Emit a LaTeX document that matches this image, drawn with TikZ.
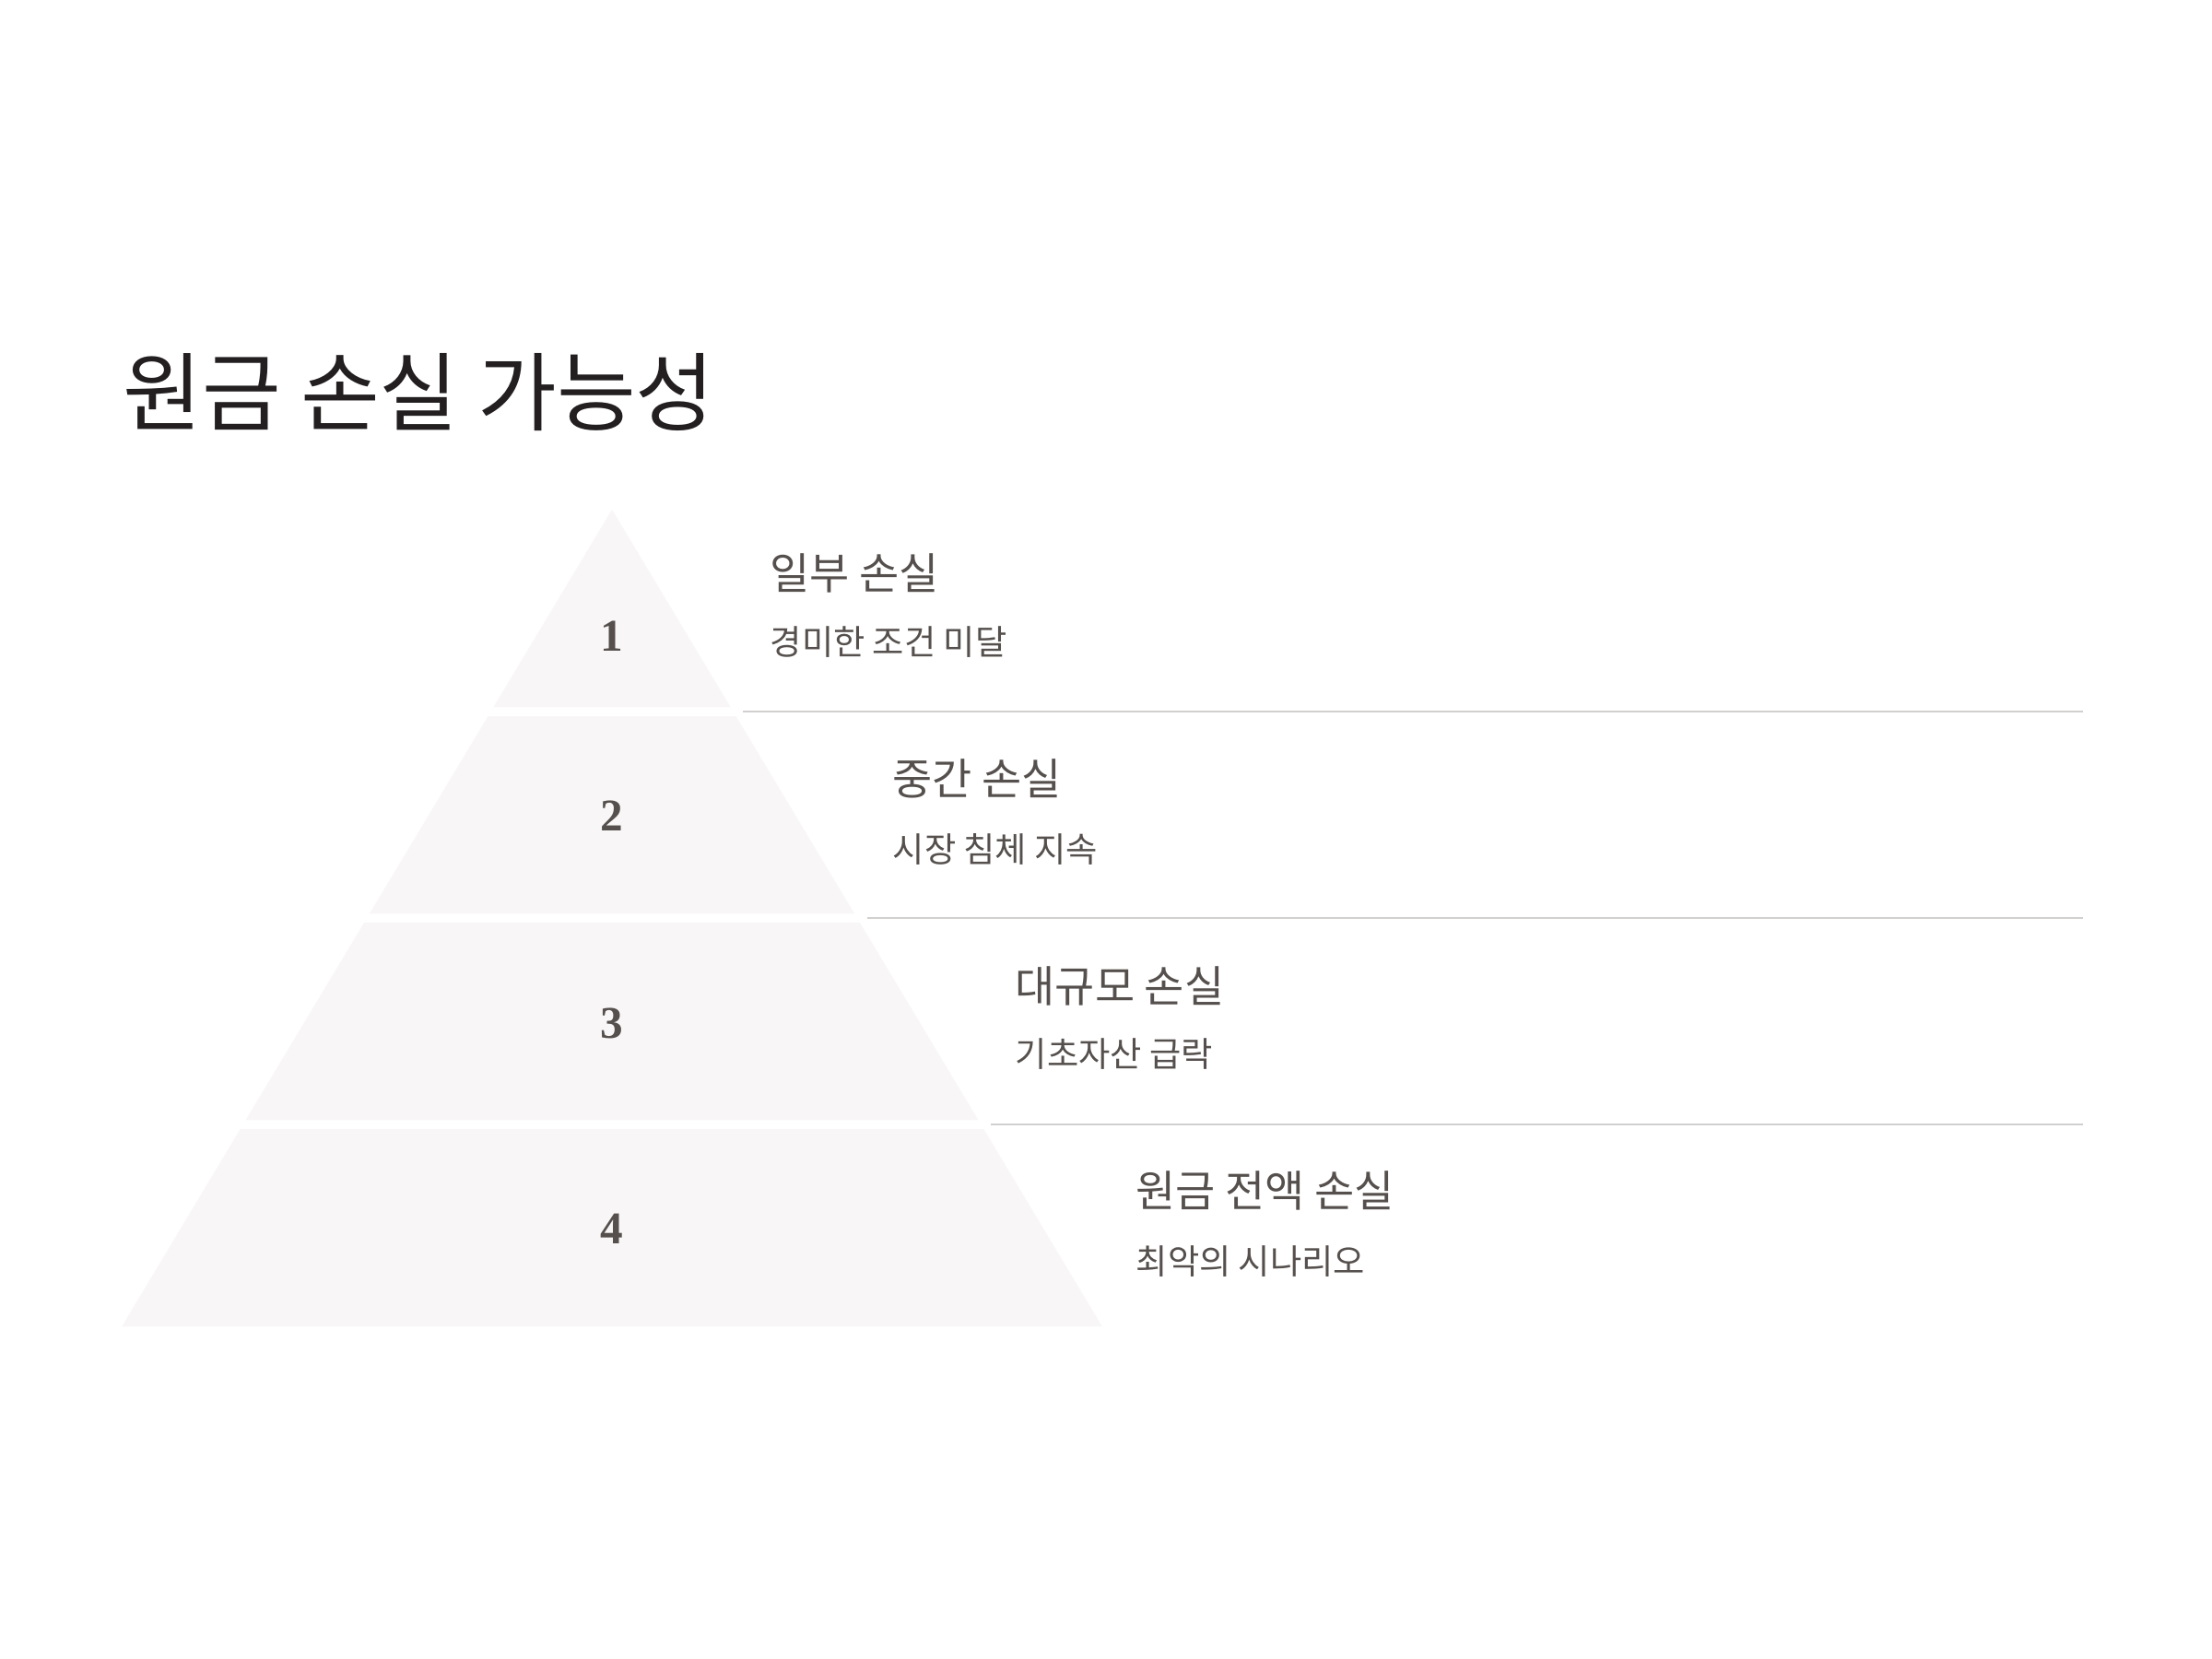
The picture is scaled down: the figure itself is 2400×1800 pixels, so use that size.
\documentclass[tikz,border=0pt]{standalone}
\usepackage{fontspec}
\newfontfamily\kr{Noto Sans CJK KR}
\newfontfamily\numfont{Liberation Serif}
\definecolor{titlec}{RGB}{35,31,32}
\definecolor{labelc}{RGB}{85,80,77}
\definecolor{tierc}{RGB}{248,246,246}
\definecolor{rulec}{RGB}{210,207,207}
\tikzset{
  tier/.style={fill=tierc, draw=none},
  rule/.style={draw=rulec, line width=0.6pt},
  num/.style={font=\numfont\bfseries\fontsize{14}{16}\selectfont, text=labelc, inner sep=0pt},
  head/.style={font=\kr\fontsize{13.35}{15}\selectfont, text=labelc, anchor=west, inner sep=0pt},
  sub/.style={font=\kr\fontsize{10.6}{13}\selectfont, text=labelc, anchor=west, inner sep=0pt},
  ttl/.style={font=\kr\fontsize{26.5}{32}\selectfont, text=titlec, anchor=west, inner sep=0pt}
}
\begin{document}
\begin{tikzpicture}[x=0.01cm, y=-0.01cm]
\useasboundingbox (0,0) rectangle (2400,1800);
\fill[white] (0,0) rectangle (2400,1800);

% title
\node[ttl] (title) at (133,426) {원금 손실 가능성};

% pyramid tiers
\path[tier] (664,553) -- (792.4,767) -- (535.6,767) -- cycle;
\path[tier] (529.6,777) -- (798.4,777) -- (926.8,991) -- (401.2,991) -- cycle;
\path[tier] (395.2,1001) -- (932.8,1001) -- (1061.2,1215) -- (266.8,1215) -- cycle;
\path[tier] (260.8,1225) -- (1067.2,1225) -- (1195.6,1439) -- (132.4,1439) -- cycle;

% numbers
\node[num] (n1) at (664,690) {1};
\node[num] (n2) at (664,885) {2};
\node[num] (n3) at (664,1110) {3};
\node[num] (n4) at (664,1333) {4};

% separators
\coordinate (r1a) at (806,772);  \coordinate (r1b) at (2260,772);
\coordinate (r2a) at (941,996);  \coordinate (r2b) at (2260,996);
\coordinate (r3a) at (1075,1220); \coordinate (r3b) at (2260,1220);
\draw[rule] (r1a) -- (r1b);
\draw[rule] (r2a) -- (r2b);
\draw[rule] (r3a) -- (r3b);

% labels
\node[head] (h1) at (835,622) {일부 손실};
\node[sub]  (s1) at (835,697) {경미한 조건 미달};
\node[head] (h2) at (968,845) {중간 손실};
\node[sub]  (s2) at (968,921) {시장 침체 지속};
\node[head] (h3) at (1101,1070) {대규모 손실};
\node[sub]  (s3) at (1101,1144) {기초자산 급락};
\node[head] (h4) at (1232,1292) {원금 전액 손실};
\node[sub]  (s4) at (1232,1369) {최악의 시나리오};
\end{tikzpicture}
\end{document}
